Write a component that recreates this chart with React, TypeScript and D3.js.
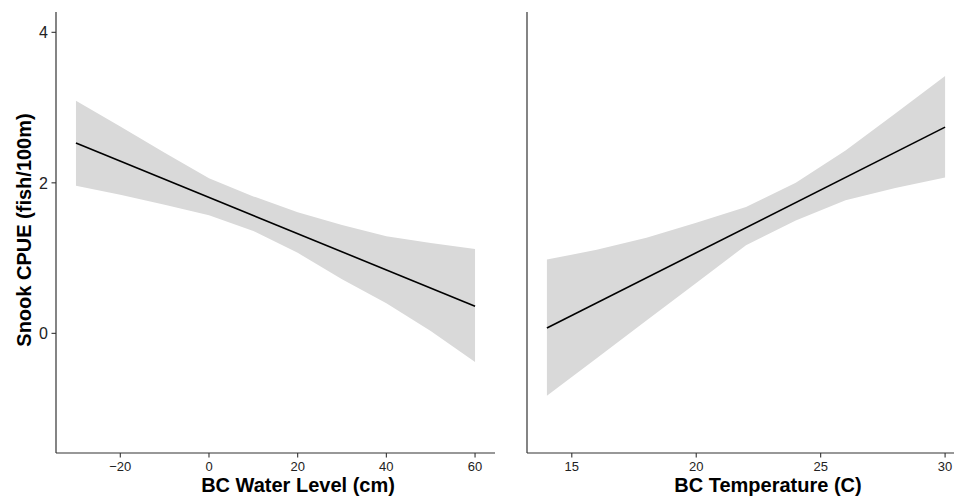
import React from "react";
import * as d3 from "d3";

// Left panel: water level effect
const waterX = [-30, -20, -10, 0, 10, 20, 30, 40, 50, 60];
const waterUpper = [3.09, 2.75, 2.4, 2.06, 1.82, 1.61, 1.44, 1.29, 1.2, 1.12];
const waterLower = [1.96, 1.84, 1.71, 1.57, 1.36, 1.07, 0.72, 0.4, 0.03, -0.38];
const waterFitX = [-30, 60];
const waterFit = [2.53, 0.36];
const waterTicks = [-20, 0, 20, 40, 60];

// Right panel: temperature effect
const tempX = [14, 16, 18, 20, 22, 24, 26, 28, 30];
const tempUpper = [0.98, 1.11, 1.27, 1.47, 1.68, 2.0, 2.43, 2.92, 3.42];
const tempLower = [-0.83, -0.33, 0.17, 0.67, 1.17, 1.5, 1.77, 1.93, 2.07];
const tempFitX = [14, 30];
const tempFit = [0.07, 2.74];
const tempTicks = [15, 20, 25, 30];

const yTicks = [0, 2, 4];

const W = 954;
const H = 497;
const top = 12;
const bottom = 453;
const font = "'Liberation Sans', Arial, Helvetica, sans-serif";

const y = d3.scaleLinear().domain([-1.59, 4.27]).range([bottom, top]);

type PanelProps = {
  xs: number[];
  upper: number[];
  lower: number[];
  fitX: number[];
  fit: number[];
  ticks: number[];
  domain: [number, number];
  range: [number, number];
  title: string;
  titleX: number;
  showY: boolean;
};

function Panel(p: PanelProps) {
  const x = d3.scaleLinear().domain(p.domain).range(p.range);
  const band = d3
    .area<number>()
    .x((_, i) => x(p.xs[i]))
    .y0((_, i) => y(p.lower[i]))
    .y1((_, i) => y(p.upper[i]));
  const line = d3
    .line<number>()
    .x((_, i) => x(p.fitX[i]))
    .y((d) => y(d));
  const x0 = p.range[0];
  return (
    <g>
      <path d={band(p.xs) ?? ""} fill="#d9d9d9" />
      <path d={line(p.fit) ?? ""} fill="none" stroke="#000" strokeWidth={1.6} />
      <line x1={x0} x2={x0} y1={top} y2={bottom} stroke="#333" strokeWidth={1.2} />
      <line x1={x0} x2={p.range[1]} y1={bottom} y2={bottom} stroke="#333" strokeWidth={1.2} />
      {p.ticks.map((t) => (
        <g key={t} transform={`translate(${x(t)},${bottom})`}>
          <line y1={0} y2={4.5} stroke="#333" strokeWidth={1.1} />
          <text y={18} textAnchor="middle" fontSize={13} fill="#222" fontFamily={font}>
            {t < 0 ? `\u2212${Math.abs(t)}` : t}
          </text>
        </g>
      ))}
      {p.showY &&
        yTicks.map((t) => (
          <g key={t} transform={`translate(${x0},${y(t)})`}>
            <line x1={-4.5} x2={0} stroke="#333" strokeWidth={1.1} />
            <text x={-8} dy="0.36em" textAnchor="end" fontSize={16} fill="#222" fontFamily={font}>
              {t}
            </text>
          </g>
        ))}
      <text
        x={p.titleX}
        y={492}
        textAnchor="middle"
        fontSize={20}
        fontWeight="bold"
        fill="#000"
        fontFamily={font}
      >
        {p.title}
      </text>
    </g>
  );
}

export default function App() {
  return (
    <svg
      width={W}
      height={H}
      style={{ position: "absolute", left: 0, top: 0, background: "#fff" }}
    >
      <Panel
        xs={waterX}
        upper={waterUpper}
        lower={waterLower}
        fitX={waterFitX}
        fit={waterFit}
        ticks={waterTicks}
        domain={[-34.5, 64.5]}
        range={[56, 495]}
        title="BC Water Level (cm)"
        titleX={298}
        showY={true}
      />
      <Panel
        xs={tempX}
        upper={tempUpper}
        lower={tempLower}
        fitX={tempFitX}
        fit={tempFit}
        ticks={tempTicks}
        domain={[13.2, 30.8]}
        range={[527, 965]}
        title="BC Temperature (C)"
        titleX={768}
        showY={false}
      />
      <text
        transform={`translate(31,230) rotate(-90)`}
        textAnchor="middle"
        fontSize={20}
        fontWeight="bold"
        fill="#000"
        fontFamily={font}
      >
        Snook CPUE (fish/100m)
      </text>
    </svg>
  );
}
